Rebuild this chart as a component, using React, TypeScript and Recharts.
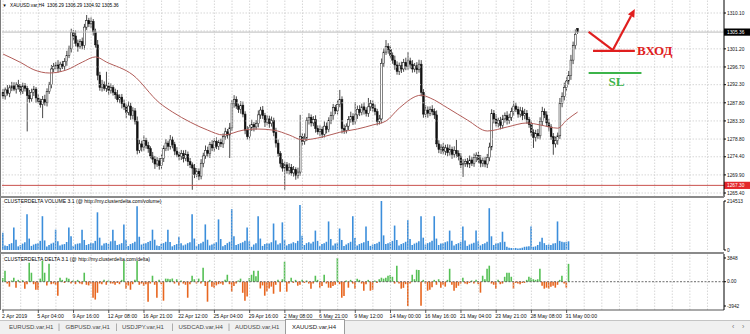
import React from 'react';
import {
  ComposedChart,
  Bar,
  Line,
  XAxis,
  YAxis,
  ReferenceLine,
  ReferenceDot,
  Cell,
} from 'recharts';

const FONT = '"Liberation Sans", Arial, sans-serif';
const SERIF = '"Liberation Serif", "Times New Roman", serif';

// ---------------------------------------------------------------------------
// XAUUSD H4, 2 Apr 2019 - 31 May 2019
// ---------------------------------------------------------------------------
const closes = [
  1289.5, 1291.0, 1290.2, 1291.5, 1292.0, 1291.2, 1292.4, 1291.8, 1290.6, 1292.0,
  1291.4, 1289.6, 1288.8, 1290.4, 1291.2, 1289.0, 1288.2, 1287.4, 1288.6, 1287.8,
  1290.6, 1292.4, 1296.2, 1296.8, 1297.2, 1296.4, 1297.4, 1296.8, 1298.0, 1299.6,
  1301.2, 1305.2, 1304.4, 1302.6, 1301.8, 1303.0, 1302.0, 1306.6, 1308.2, 1307.4,
  1308.0, 1305.4, 1302.2, 1294.6, 1291.6, 1292.4, 1291.4, 1292.0, 1290.8, 1291.6,
  1290.4, 1289.8, 1288.6, 1289.2, 1287.6, 1286.8, 1285.4, 1287.0, 1284.6, 1285.8,
  1283.2, 1276.0, 1277.6, 1276.8, 1278.4, 1277.2, 1276.4, 1274.6, 1273.8, 1272.6,
  1273.4, 1272.2, 1274.0, 1276.4, 1277.8, 1277.0, 1278.6, 1277.4, 1275.8, 1275.0,
  1274.4, 1275.2, 1274.0, 1275.0, 1273.2, 1272.4, 1271.6, 1270.0, 1270.8, 1269.6,
  1272.8, 1274.6, 1276.0, 1275.2, 1277.4, 1276.6, 1278.2, 1277.0, 1278.0, 1277.6,
  1279.4, 1280.6, 1279.8, 1281.6, 1287.6, 1288.6, 1287.0, 1286.2, 1287.2, 1285.0,
  1281.0, 1279.4, 1281.6, 1282.4, 1281.8, 1282.6, 1284.8, 1286.0, 1284.6, 1283.0,
  1283.8, 1282.6, 1283.4, 1280.4, 1277.8, 1275.2, 1272.8, 1271.6, 1272.4, 1271.0,
  1271.8, 1270.4, 1271.2, 1269.8, 1270.6, 1279.4, 1278.2, 1279.0, 1283.4, 1284.2,
  1282.8, 1283.6, 1281.4, 1280.6, 1281.2, 1280.0, 1282.0, 1281.2, 1283.4, 1284.6,
  1286.6, 1285.8, 1287.4, 1288.6, 1281.4, 1281.0, 1282.0, 1283.6, 1284.4, 1283.2,
  1284.8, 1286.2, 1285.4, 1286.8, 1286.0, 1285.2, 1286.8, 1287.6, 1286.4, 1285.6,
  1283.2, 1283.8, 1297.6, 1300.4, 1301.8, 1301.0, 1299.6, 1298.4, 1297.2, 1295.6,
  1297.0, 1296.2, 1297.8, 1296.8, 1298.2, 1297.4, 1296.2, 1297.0, 1296.0, 1297.4,
  1290.4, 1285.0, 1286.0, 1285.2, 1286.2, 1285.6, 1284.8, 1277.6, 1276.2, 1276.8,
  1275.8, 1276.6, 1275.4, 1276.2, 1275.0, 1276.0, 1275.2, 1274.4, 1272.4, 1272.8,
  1273.2, 1272.6, 1273.6, 1272.8, 1274.2, 1274.8, 1273.6, 1272.8, 1273.4, 1272.6,
  1274.2, 1276.8, 1285.2, 1283.8, 1282.6, 1283.4, 1282.2, 1283.8, 1284.6, 1283.4,
  1284.2, 1285.6, 1287.0, 1286.2, 1285.0, 1285.8, 1284.6, 1285.2, 1283.6, 1282.4,
  1280.4, 1279.2, 1280.2, 1279.6, 1283.2, 1285.6, 1284.8, 1282.8, 1281.8, 1279.4,
  1277.6, 1278.4, 1279.6, 1287.6, 1289.4, 1291.6, 1293.2, 1294.6, 1298.4, 1302.0,
  1304.8, 1305.36,
];

// wick length above / below the body of each bar
const wickHi = [
  0.8, 0.6, 1.2, 0.7, 1.0, 0.9, 0.5, 1.1, 0.6, 0.8,
  0.7, 0.6, 1.4, 0.9, 0.8, 0.5, 1.0, 0.6, 0.9, 1.2,
  0.8, 0.6, 1.0, 0.9, 0.7, 1.2, 0.6, 0.8, 0.9, 1.1,
  0.8, 1.0, 0.7, 1.4, 0.9, 0.6, 1.0, 0.8, 1.4, 0.7,
  1.0, 0.6, 0.8, 1.2, 0.9, 1.1, 0.7, 3.5, 0.8, 1.0,
  0.6, 0.9, 1.2, 0.7, 0.8, 1.0, 0.6, 1.1, 0.8, 0.9,
  0.7, 1.2, 1.0, 0.8, 1.3, 0.7, 0.9, 0.6, 1.0, 0.8,
  0.9, 0.7, 1.1, 0.8, 1.0, 0.6, 1.2, 0.8, 0.7, 1.0,
  0.6, 0.9, 0.8, 1.1, 0.7, 0.9, 0.6, 1.0, 0.8, 0.7,
  1.0, 0.8, 1.2, 0.9, 0.7, 1.1, 0.8, 1.0, 0.6, 0.9,
  0.8, 1.0, 0.7, 1.2, 0.9, 1.1, 0.8, 0.6, 1.0, 0.9,
  0.7, 1.0, 0.8, 1.2, 0.6, 0.9, 1.1, 0.8, 1.0, 0.7,
  0.9, 0.8, 1.0, 0.7, 1.2, 0.9, 0.6, 1.0, 0.8, 0.7,
  1.0, 0.8, 0.9, 0.6, 1.1, 5.4, 0.9, 1.2, 0.8, 1.0,
  0.7, 0.9, 1.1, 0.8, 1.0, 0.7, 1.2, 0.9, 0.8, 1.0,
  0.9, 0.7, 1.1, 2.4, 0.8, 1.0, 0.7, 0.9, 1.2, 0.8,
  3.2, 0.9, 1.0, 0.8, 1.1, 0.7, 2.2, 0.9, 0.8, 1.0,
  0.7, 1.0, 1.2, 0.9, 1.6, 0.8, 1.0, 0.7, 1.1, 0.9,
  0.8, 1.0, 0.9, 1.2, 2.2, 0.8, 1.0, 0.7, 0.9, 1.1,
  1.0, 0.8, 1.2, 0.9, 0.7, 1.0, 0.8, 1.1, 0.9, 0.7,
  1.0, 0.8, 0.9, 1.2, 0.7, 1.0, 2.6, 0.8, 0.9, 1.0,
  0.7, 0.9, 1.1, 0.8, 1.0, 0.7, 0.9, 1.2, 0.8, 1.0,
  0.9, 1.1, 1.0, 0.8, 1.2, 0.7, 0.9, 1.0, 0.8, 1.1,
  0.9, 1.0, 1.2, 0.8, 0.7, 1.0, 0.9, 1.1, 0.8, 0.7,
  1.0, 0.8, 0.9, 1.1, 1.0, 1.2, 0.8, 0.9, 1.0, 0.7,
  0.9, 1.0, 0.8, 1.4, 1.0, 1.2, 0.9, 1.1, 1.3, 1.0,
  1.2, 0.9,
];

const wickLo = [
  0.7, 0.9, 0.6, 1.0, 0.8, 0.5, 1.1, 0.7, 0.9, 0.6,
  0.8, 8.9, 1.0, 0.7, 0.9, 1.2, 0.6, 0.8, 3.4, 0.7,
  0.9, 0.6, 1.0, 0.8, 0.7, 1.1, 0.9, 0.6, 0.8, 1.0,
  0.7, 0.9, 1.1, 0.8, 1.3, 0.6, 0.9, 1.0, 0.7, 0.8,
  1.0, 0.9, 0.7, 1.2, 0.8, 1.0, 0.6, 0.9, 1.1, 0.7,
  0.8, 1.0, 0.7, 0.9, 1.2, 0.8, 1.4, 0.7, 1.0, 0.9,
  0.8, 1.0, 0.7, 1.1, 0.9, 0.8, 1.0, 0.6, 0.9, 1.2,
  0.7, 1.0, 0.8, 0.9, 0.6, 1.1, 0.8, 0.9, 1.0, 0.7,
  0.9, 0.8, 1.0, 0.7, 1.1, 0.8, 5.4, 0.9, 0.7, 1.0,
  0.8, 1.0, 0.7, 0.9, 1.1, 0.8, 1.0, 0.7, 0.9, 0.8,
  1.0, 0.8, 0.9, 5.7, 0.8, 1.0, 0.7, 0.9, 1.1, 0.8,
  1.0, 0.7, 0.9, 0.8, 1.1, 0.7, 0.9, 1.0, 0.8, 1.2,
  0.8, 1.0, 0.7, 0.9, 1.1, 0.8, 1.0, 0.9, 5.4, 0.8,
  1.0, 0.7, 0.9, 1.1, 0.8, 0.9, 1.0, 0.8, 0.7, 1.0,
  0.9, 0.8, 1.0, 0.7, 1.1, 0.9, 0.8, 1.0, 0.7, 0.9,
  1.0, 0.8, 0.9, 0.7, 1.2, 0.9, 0.8, 1.0, 0.7, 0.9,
  0.8, 1.0, 0.9, 0.7, 1.1, 0.8, 0.9, 1.0, 0.8, 0.9,
  1.0, 0.8, 1.1, 0.9, 0.7, 1.0, 0.8, 0.9, 1.2, 0.8,
  0.9, 1.0, 0.7, 0.9, 0.8, 1.1, 0.9, 0.8, 1.0, 0.7,
  1.0, 0.9, 0.8, 1.1, 0.7, 0.9, 1.0, 0.8, 0.9, 1.1,
  0.8, 1.0, 0.9, 0.7, 1.1, 0.8, 1.0, 0.9, 0.8, 3.0,
  0.9, 0.8, 1.0, 0.7, 0.9, 1.1, 0.8, 1.0, 0.9, 0.8,
  1.0, 0.9, 0.8, 1.1, 0.7, 0.9, 1.0, 0.8, 0.9, 1.0,
  0.8, 0.9, 1.0, 0.7, 0.9, 0.8, 1.1, 0.9, 1.0, 0.8,
  0.9, 2.6, 1.0, 0.8, 0.9, 1.0, 0.8, 0.9, 1.1, 0.8,
  2.7, 0.9, 1.0, 0.8, 0.9, 1.0, 0.8, 0.9, 1.1, 1.0,
  0.9, 0.4,
];

const firstOpen = 1290.4;
// last bar, from the chart title: O H L C
const lastBar = { o: 1306.29, h: 1306.29, l: 1304.92, c: 1305.36 };

// moving average, read at a few bars
const maIdx = [
  0, 8, 14, 21, 29, 36, 42, 47, 59, 71,
  77, 85, 93, 100, 109, 115, 123, 130, 136, 145,
  153, 161, 168, 174, 180, 190, 194, 202, 211, 220,
  229, 238, 244, 252, 256, 261,
];
const maVal = [
  1299.9, 1297.8, 1296.0, 1295.2, 1296.0, 1297.9, 1299.2, 1297.9, 1294.7, 1287.8,
  1285.5, 1283.0, 1281.0, 1279.8, 1281.0, 1281.3, 1281.0, 1279.8, 1278.6, 1279.3,
  1280.5, 1281.3, 1282.3, 1283.3, 1286.5, 1289.7, 1289.0, 1286.5, 1283.5, 1280.8,
  1281.8, 1282.8, 1282.3, 1281.5, 1283.5, 1285.5,
];

// CLUSTERDELTA VOLUME, thousands
const volumeK = [
  76, 20, 18, 26, 30, 98, 45, 16, 22, 28,
  34, 156, 50, 18, 24, 27, 30, 40, 148, 42,
  15, 22, 28, 32, 89, 38, 20, 24, 26, 35,
  98, 60, 18, 25, 28, 30, 89, 44, 22, 26,
  32, 30, 40, 165, 54, 20, 28, 31, 26, 38,
  89, 40, 22, 25, 30, 112, 45, 18, 26, 30,
  36, 192, 58, 24, 28, 30, 35, 40, 89, 45,
  20, 18, 27, 30, 36, 89, 35, 16, 22, 26,
  58, 30, 20, 24, 30, 34, 156, 50, 18, 26,
  30, 36, 112, 45, 20, 24, 28, 34, 134, 48,
  16, 22, 30, 36, 179, 60, 22, 26, 30, 34,
  40, 98, 38, 14, 24, 30, 148, 50, 18, 26,
  30, 28, 34, 116, 42, 24, 30, 121, 45, 20,
  26, 28, 34, 30, 40, 197, 62, 22, 30, 34,
  28, 36, 85, 40, 18, 26, 30, 36, 125, 48,
  20, 28, 32, 94, 44, 18, 24, 30, 36, 148,
  52, 20, 26, 30, 34, 103, 40, 18, 24, 26,
  30, 36, 214.513, 64, 26, 30, 34, 40, 107, 44,
  20, 26, 30, 36, 130, 48, 22, 28, 32, 38,
  148, 54, 24, 30, 34, 40, 148, 50, 22, 28,
  30, 34, 38, 85, 40, 20, 26, 30, 36, 103,
  42, 18, 24, 28, 32, 85, 38, 20, 26, 30,
  36, 183, 60, 22, 28, 30, 34, 80, 36, 14,
  10, 9, 8, 9, 7, 8, 10, 14, 15, 16,
  103, 14, 16, 22, 36, 54, 30, 22, 24, 22,
  28, 30, 125, 40, 36, 34, 36, 38,
];

// CLUSTERDELTA DELTA
const delta = [
  600, 1780, -300, -800, 200, 650, -970, 300, -200, 250,
  -1130, -400, 3080, 1460, -400, -1300, -1300, 500, 3400, 1460,
  -600, 2900, -400, -300, -500, -2270, 650, 300, -200, 650,
  500, -300, 200, -400, 300, -300, -400, 1460, -500, -600,
  -300, -2600, -2900, -1800, -300, -400, 300, -500, 200, -300,
  -300, -500, -200, -400, 300, 3400, -1130, -600, -1300, -400,
  300, 3400, -500, -300, -700, -400, -3240, -300, 970, -500,
  -2600, 300, -400, -3080, 500, 480, 400, 520, -300, 400,
  -600, 200, -300, -500, -2600, -400, 970, 400, -300, 500,
  -300, 2270, -700, -3240, 300, -800, -1000, -600, -400, -300,
  -500, 300, 1130, -400, -1620, -700, -300, 200, 500, -1800,
  -3080, -2400, 600, 1130, 1780, 900, 1780, -1100, -600, -2270,
  -1600, -1100, -800, -1950, -500, 300, -1620, 400, 3240, -1620,
  -300, 650, -200, 300, -650, -500, 300, -200, 200, -300,
  -1130, -300, 970, 300, -970, -700, 1130, -300, -970, -1000,
  -700, -500, 3848, -400, -2600, -2300, 200, -970, 300, -300,
  -1130, 500, 300, -300, -1460, -400, 300, -1460, -1300, 200,
  -200, 400, 650, 500, 650, 970, 1100, 800, -300, 2600,
  -300, -1130, -1000, -400, -3942, -300, 1130, 400, 1940, 1900,
  -3900, 300, -300, -1460, -1300, -900, 300, -500, 400, -970,
  -500, -800, 300, 2100, -500, -1460, -1000, -650, -300, 650,
  -300, -400, -200, 200, -300, 300, -400, -1780, 970, 400,
  2100, 2600, -300, -500, -1130, 300, -400, -300, 800, 1460,
  1460, 800, -1130, -200, -300, -400, -200, -200, 300, 800,
  650, 400, 300, 400, 2100, -650, -1130, -970, -1130, -800,
  -650, -970, -500, 300, 970, -300, -970, 2900,
];

const timeLabels = [
  '2 Apr 2019', '5 Apr 04:00', '9 Apr 16:00', '12 Apr 08:00', '16 Apr 21:00',
  '22 Apr 12:00', '25 Apr 04:00', '29 Apr 16:00', '2 May 08:00', '6 May 21:00',
  '9 May 12:00', '14 May 00:00', '16 May 16:00', '21 May 04:00', '23 May 21:00',
  '28 May 08:00', '31 May 00:00',
];

const priceTicks = [1310.1, 1301.2, 1296.7, 1292.3, 1287.8, 1283.3, 1278.8, 1274.4, 1269.9, 1265.4];
const priceGrid = [...priceTicks, 1305.65];
const bidPrice = 1305.36;
const levelPrice = 1267.3;
const volumeTicks = [0, 214513];
const deltaTicks = [-3942, 0, 3848];

const tabs = ['EURUSD.var,H1', 'GBPUSD.var,H1', 'USDJPY.var,H1', 'USDCAD.var,H4', 'AUDUSD.var,H1'];
const activeTab = 'XAUUSD.var,H4';

// ---------------------------------------------------------------------------
const SLOTS = 328; // bars + empty space on the right (chart shift)
const GRID_STEP = 8;
const LABEL_STEP = 16;

const RED = '#e01e1e';
const GREEN = '#3cb44a';
const VOL_BLUE = '#3b8edb';
const DELTA_GREEN = '#55c055';
const DELTA_ORANGE = '#e8661f';
const GRID = '#cdcdcd';

const maByIdx = new Map(maIdx.map((idx, k) => [idx, maVal[k]]));

const rows = Array.from({ length: SLOTS }, (_, i) => {
  const row: any = { i };
  if (i < closes.length) {
    const isLast = i === closes.length - 1;
    // open of a bar = previous close (no gaps on this feed)
    const o = isLast ? lastBar.o : i === 0 ? firstOpen : closes[i - 1];
    const c = closes[i];
    row.o = o;
    row.c = c;
    row.h = isLast ? lastBar.h : Math.max(o, c) + wickHi[i];
    row.l = isLast ? lastBar.l : Math.min(o, c) - wickLo[i];
  }
  if (maByIdx.has(i)) row.ma = maByIdx.get(i);
  if (i < volumeK.length) {
    row.v = volumeK[i] * 1000;
    row.d = delta[i];
  }
  return row;
});

const gridX = Array.from({ length: Math.floor((SLOTS - 1) / GRID_STEP) + 1 }, (_, k) => k * GRID_STEP);
const labelIdx = timeLabels.map((_, k) => k * LABEL_STEP);

const candleRange = (d: any) => (d.c == null ? undefined : [d.l, d.h]);

function Candle(props: any) {
  const { x, y, width, height, payload } = props;
  if (!payload || payload.c == null || !Number.isFinite(y) || !Number.isFinite(height)) return null;
  const top = Math.min(y, y + height);
  const h = Math.abs(height);
  const span = payload.h - payload.l || 1;
  const py = (v: number) => top + ((payload.h - v) / span) * h;
  const cx = x + width / 2;
  const yo = py(payload.o);
  const yc = py(payload.c);
  const up = payload.c >= payload.o;
  const bTop = Math.min(yo, yc);
  const bH = Math.max(Math.abs(yc - yo), 0.7);
  return (
    <g>
      <line x1={cx} x2={cx} y1={top} y2={top + h} stroke="#1a1a1a" strokeWidth={0.8} />
      <rect
        x={cx - 0.9}
        y={bTop}
        width={1.8}
        height={bH}
        fill={up ? '#ffffff' : '#111111'}
        stroke="#111111"
        strokeWidth={0.5}
      />
    </g>
  );
}

function AxisTick(props: any) {
  const { x, y, payload, fmt } = props;
  return (
    <text x={x} y={y} dy={1.7} fontSize={4.8} fontFamily={FONT} fill="#111" textAnchor="start">
      {fmt(payload.value)}
    </text>
  );
}

function TimeTick(props: any) {
  const { x, y, payload } = props;
  const k = labelIdx.indexOf(payload.value);
  if (k < 0) return null;
  return (
    <g>
      <line x1={x} x2={x} y1={y} y2={y + 3} stroke="#333" strokeWidth={0.8} />
      <text x={x - 1} y={y + 7.6} fontSize={5.2} fontFamily={FONT} fill="#111" textAnchor="start">
        {timeLabels[k]}
      </text>
    </g>
  );
}

function PriceBox(props: any) {
  const { viewBox, text, bg } = props;
  if (!viewBox) return null;
  const bx = viewBox.x + viewBox.width;
  return (
    <g>
      <rect x={bx} y={viewBox.y - 3.6} width={26} height={7.2} fill={bg} />
      <text x={bx + 3} y={viewBox.y + 1.7} fontSize={4.8} fontFamily={FONT} fill="#fff">
        {text}
      </text>
    </g>
  );
}

function ArrowLine(props: any) {
  const { x1, y1, x2, y2 } = props;
  const dx = x2 - x1;
  const dy = y2 - y1;
  const len = Math.hypot(dx, dy) || 1;
  const ux = dx / len;
  const uy = dy / len;
  const bx = x2 - ux * 8;
  const by = y2 - uy * 8;
  return (
    <g>
      <line x1={x1} y1={y1} x2={bx} y2={by} stroke={RED} strokeWidth={2.2} />
      <polygon
        points={`${x2},${y2} ${bx - uy * 3.6},${by + ux * 3.6} ${bx + uy * 3.6},${by - ux * 3.6}`}
        fill={RED}
      />
    </g>
  );
}

const vGrid = (prefix: string) =>
  gridX.map((g) => (
    <ReferenceLine key={`${prefix}-${g}`} x={g} stroke={GRID} strokeDasharray="1.5 1.5" strokeWidth={0.8} />
  ));

const yAxisCommon = {
  orientation: 'right' as const,
  width: 26,
  tickSize: 2,
  tickMargin: 1,
  interval: 0 as const,
  axisLine: { stroke: '#000' },
  tickLine: { stroke: '#000' },
  allowDataOverflow: true,
};

export default function App() {
  return (
    <div
      style={{
        position: 'absolute',
        left: 0,
        top: 0,
        width: 750,
        height: 334,
        background: '#fff',
        overflow: 'hidden',
        fontFamily: FONT,
      }}
    >
      {/* price panel */}
      <div style={{ position: 'absolute', left: 0, top: 0 }}>
        <ComposedChart width={750} height={197} data={rows} margin={{ top: 0, right: 0, bottom: 0, left: 2 }}>
          <XAxis dataKey="i" type="category" hide />
          <YAxis
            {...yAxisCommon}
            domain={[1264.41, 1313.33]}
            ticks={priceTicks}
            tick={<AxisTick fmt={(v: number) => v.toFixed(2)} />}
          />
          {vGrid('p')}
          {priceGrid.map((p) => (
            <ReferenceLine key={`hp-${p}`} y={p} stroke={GRID} strokeDasharray="1.5 1.5" strokeWidth={0.8} />
          ))}
          <ReferenceLine y={bidPrice} stroke="#bdbdbd" label={<PriceBox text="1305.36" bg="#000" />} />
          <ReferenceLine y={levelPrice} stroke="#c9504d" label={<PriceBox text="1267.30" bg="#e3262a" />} />
          <Bar dataKey={candleRange} shape={(p: any) => <Candle {...p} />} barSize={2} isAnimationActive={false} />
          <Line
            dataKey="ma"
            type="monotone"
            stroke="#b15c58"
            strokeWidth={1}
            dot={false}
            activeDot={false}
            connectNulls
            isAnimationActive={false}
          />
          {/* hand-drawn trade annotation */}
          <ReferenceLine segment={[{ x: 266, y: 1305.4 }, { x: 277, y: 1300.9 }]} stroke={RED} strokeWidth={2.2} />
          <ReferenceLine segment={[{ x: 277, y: 1300.9 }, { x: 287, y: 1311.1 }]} shape={ArrowLine} />
          <ReferenceLine segment={[{ x: 268, y: 1300.7 }, { x: 287, y: 1300.7 }]} stroke={RED} strokeWidth={2.2} />
          <ReferenceLine segment={[{ x: 266, y: 1295.2 }, { x: 290, y: 1295.2 }]} stroke={GREEN} strokeWidth={2} />
          <ReferenceDot
            x={288}
            y={1300.7}
            shape={(p: any) => (
              <text x={p.cx} y={p.cy + 4.2} fontSize={13} fontWeight="bold" fontFamily={SERIF} fill={RED}>
                ВХОД
              </text>
            )}
          />
          <ReferenceDot
            x={275}
            y={1293.1}
            shape={(p: any) => (
              <text x={p.cx} y={p.cy + 4.4} fontSize={13} fontWeight="bold" fontFamily={SERIF} fill={GREEN}>
                SL
              </text>
            )}
          />
        </ComposedChart>
      </div>

      {/* volume panel */}
      <div style={{ position: 'absolute', left: 0, top: 198 }}>
        <ComposedChart width={750} height={54} data={rows} margin={{ top: 3, right: 0, bottom: 2, left: 2 }}>
          <XAxis dataKey="i" type="category" hide />
          <YAxis
            {...yAxisCommon}
            domain={[0, 214513]}
            ticks={volumeTicks}
            tick={<AxisTick fmt={(v: number) => String(v)} />}
          />
          {vGrid('v')}
          <Bar dataKey="v" fill={VOL_BLUE} barSize={1.6} isAnimationActive={false} />
        </ComposedChart>
      </div>

      {/* delta panel + time axis */}
      <div style={{ position: 'absolute', left: 0, top: 254 }}>
        <ComposedChart width={750} height={66} data={rows} margin={{ top: 0, right: 0, bottom: 0, left: 2 }}>
          <XAxis
            dataKey="i"
            type="category"
            height={10}
            ticks={labelIdx}
            interval={0}
            tickSize={0}
            tickMargin={0}
            tickLine={false}
            axisLine={{ stroke: '#555' }}
            tick={<TimeTick />}
          />
          <YAxis
            {...yAxisCommon}
            domain={[-4591, 4497]}
            ticks={deltaTicks}
            tick={<AxisTick fmt={(v: number) => (v === 0 ? '0.00' : String(v))} />}
          />
          {vGrid('d')}
          <ReferenceLine y={0} stroke="#444" strokeDasharray="2 1.5" strokeWidth={0.8} />
          <Bar dataKey="d" barSize={1.6} isAnimationActive={false}>
            {rows.map((r) => (
              <Cell key={`c-${r.i}`} fill={(r.d ?? 0) >= 0 ? DELTA_GREEN : DELTA_ORANGE} />
            ))}
          </Bar>
        </ComposedChart>
      </div>

      {/* window chrome: titles, separators, tab bar */}
      <svg
        width={750}
        height={334}
        style={{ position: 'absolute', left: 0, top: 0, pointerEvents: 'none' }}
      >
        <rect x={0} y={0} width={1} height={310} fill="#7c7c7c" />
        <rect x={0} y={196} width={724} height={2} fill="#8a8a8a" />
        <rect x={0} y={252} width={724} height={2} fill="#8a8a8a" />

        <text x={2.5} y={6.6} fontSize={4.2} fontFamily={FONT} fill="#000">▼</text>
        <text x={10} y={6.8} fontSize={4.7} fontFamily={FONT} fill="#000" style={{ whiteSpace: 'pre' }}>
          XAUUSD.var,H4  1306.29 1306.29 1304.92 1305.36
        </text>
        <text x={4} y={203.3} fontSize={5.1} fontFamily={FONT} fill="#000">
          CLUSTERDELTA VOLUME 3.1 (@ http://my.clusterdelta.com/volume)
        </text>
        <text x={4} y={260.8} fontSize={5.1} fontFamily={FONT} fill="#000">
          CLUSTERDELTA DELTA 3.1 (@ http://my.clusterdelta.com/delta)
        </text>

        <rect x={0} y={320} width={750} height={14} fill="#f0f0f0" />
        <line x1={0} x2={750} y1={320.5} y2={320.5} stroke="#c4c4c4" />
        {tabs.map((t, k) => (
          <text key={t} x={9 + k * 56.5} y={329.2} fontSize={6} fontFamily={FONT} fill="#4a4a4a">
            {t}
          </text>
        ))}
        {[59, 116.5, 172.5, 229].map((sx) => (
          <line key={sx} x1={sx} x2={sx} y1={323.5} y2={331} stroke="#9a9a9a" strokeWidth={0.8} />
        ))}
        <rect x={285.5} y={319.5} width={59} height={15} fill="#fff" stroke="#9c9c9c" strokeWidth={1} />
        <text x={292} y={329.2} fontSize={6} fontFamily={FONT} fill="#222">
          {activeTab}
        </text>
        <text x={732} y={329.4} fontSize={7} fontFamily={FONT} fill="#777">‹</text>
        <text x={742} y={329.4} fontSize={7} fontFamily={FONT} fill="#777">›</text>
      </svg>
    </div>
  );
}
